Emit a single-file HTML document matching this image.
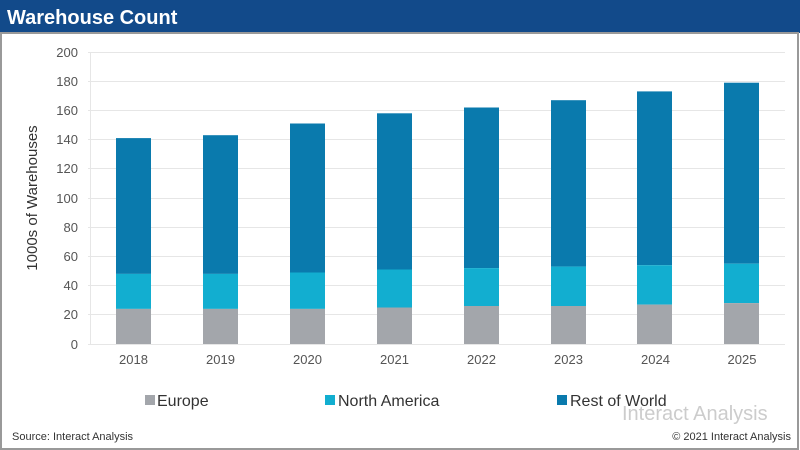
<!DOCTYPE html><html><head><style>body{margin:0;background:#fff}svg{display:block}text{font-family:"Liberation Sans",sans-serif}</style></head><body>
<svg width="800" height="450" xmlns="http://www.w3.org/2000/svg">
<rect x="0" y="0" width="800" height="450" fill="#fff"/>
<rect x="0" y="0" width="800" height="33" fill="#124a8a"/>
<text x="7" y="24" font-size="20" font-weight="bold" fill="#fff">Warehouse Count</text>
<rect x="1" y="33" width="797" height="416" fill="none" stroke="#999" stroke-width="2"/>
<g stroke="#e6e6e6" stroke-width="1">
<line x1="88" x2="785" y1="52.5" y2="52.5"/><line x1="88" x2="785" y1="81.5" y2="81.5"/><line x1="88" x2="785" y1="110.5" y2="110.5"/><line x1="88" x2="785" y1="139.5" y2="139.5"/><line x1="88" x2="785" y1="168.5" y2="168.5"/><line x1="88" x2="785" y1="198.5" y2="198.5"/><line x1="88" x2="785" y1="227.5" y2="227.5"/><line x1="88" x2="785" y1="256.5" y2="256.5"/><line x1="88" x2="785" y1="285.5" y2="285.5"/><line x1="88" x2="785" y1="314.5" y2="314.5"/><line x1="88" x2="785" y1="344.5" y2="344.5"/>
<line x1="90.5" x2="90.5" y1="52" y2="344"/>
</g>
<g font-size="13" fill="#555" text-anchor="end">
<text x="78" y="57">200</text><text x="78" y="86">180</text><text x="78" y="115">160</text><text x="78" y="144">140</text><text x="78" y="173">120</text><text x="78" y="203">100</text><text x="78" y="232">80</text><text x="78" y="261">60</text><text x="78" y="290">40</text><text x="78" y="319">20</text><text x="78" y="349">0</text>
</g>
<text transform="translate(37,198) rotate(-90)" font-size="15" fill="#333" text-anchor="middle">1000s of Warehouses</text>
<g font-size="13" fill="#555" text-anchor="middle">
<text x="133.5" y="364">2018</text><text x="220.5" y="364">2019</text><text x="307.5" y="364">2020</text><text x="394.5" y="364">2021</text><text x="481.5" y="364">2022</text><text x="568.5" y="364">2023</text><text x="655.5" y="364">2024</text><text x="742" y="364">2025</text>
</g>
<g>
<rect x="116" y="138.1" width="35" height="135.8" fill="#0a7aad"/><rect x="116" y="273.9" width="35" height="35" fill="#12aed0"/><rect x="116" y="308.9" width="35" height="35.1" fill="#a3a6ab"/>
<rect x="203" y="135.2" width="35" height="138.7" fill="#0a7aad"/><rect x="203" y="273.9" width="35" height="35" fill="#12aed0"/><rect x="203" y="308.9" width="35" height="35.1" fill="#a3a6ab"/>
<rect x="290" y="123.5" width="35" height="149" fill="#0a7aad"/><rect x="290" y="272.5" width="35" height="36.4" fill="#12aed0"/><rect x="290" y="308.9" width="35" height="35.1" fill="#a3a6ab"/>
<rect x="377" y="113.3" width="35" height="156.3" fill="#0a7aad"/><rect x="377" y="269.5" width="35" height="38" fill="#12aed0"/><rect x="377" y="307.5" width="35" height="36.5" fill="#a3a6ab"/>
<rect x="464" y="107.5" width="35" height="160.6" fill="#0a7aad"/><rect x="464" y="268.1" width="35" height="37.9" fill="#12aed0"/><rect x="464" y="306" width="35" height="38" fill="#a3a6ab"/>
<rect x="551" y="100.2" width="35" height="166.4" fill="#0a7aad"/><rect x="551" y="266.6" width="35" height="39.4" fill="#12aed0"/><rect x="551" y="306" width="35" height="38" fill="#a3a6ab"/>
<rect x="637" y="91.4" width="35" height="173.8" fill="#0a7aad"/><rect x="637" y="265.2" width="35" height="39.4" fill="#12aed0"/><rect x="637" y="304.6" width="35" height="39.4" fill="#a3a6ab"/>
<rect x="724" y="82.7" width="35" height="181" fill="#0a7aad"/><rect x="724" y="263.7" width="35" height="39.4" fill="#12aed0"/><rect x="724" y="303.1" width="35" height="40.9" fill="#a3a6ab"/>
</g>
<g font-size="16" fill="#333">
<rect x="145" y="395" width="10" height="10" fill="#a3a6ab"/><text x="157" y="406">Europe</text>
<rect x="325" y="395" width="10" height="10" fill="#12aed0"/><text x="338" y="406">North America</text>
<rect x="557" y="395" width="10" height="10" fill="#0a7aad"/><text x="570" y="406">Rest of World</text>
</g>
<text x="622" y="420" font-size="20" fill="#ccc">Interact Analysis</text>
<text x="12" y="440" font-size="11" fill="#333">Source: Interact Analysis</text>
<text x="791" y="440" font-size="11" fill="#333" text-anchor="end">© 2021 Interact Analysis</text>
</svg></body></html>
